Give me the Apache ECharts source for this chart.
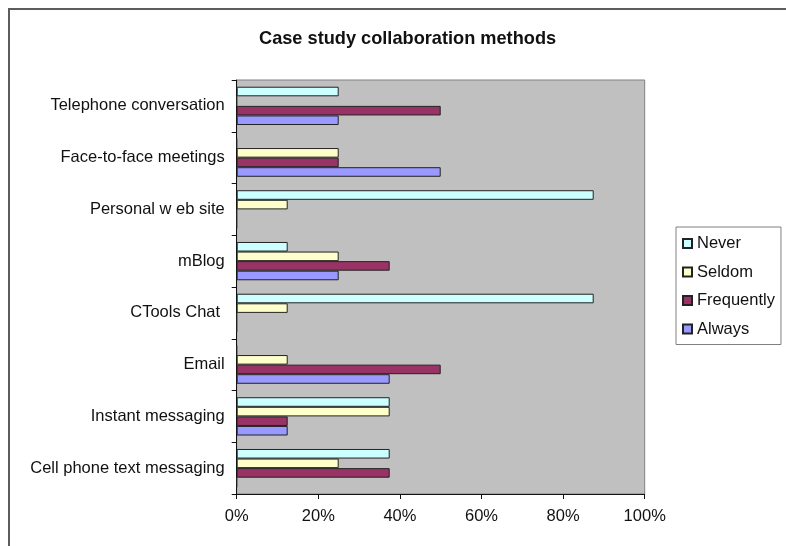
<!DOCTYPE html>
<html>
<head>
<meta charset="utf-8">
<script src="https://cdn.jsdelivr.net/npm/echarts@6/dist/echarts.min.js"></script>
<style>
  html, body { margin: 0; padding: 0; background: #fff; }
  #chart { width: 786px; height: 546px; }
</style>
</head>
<body>
<div id="chart"></div>
<script>
// Survey categories, listed top to bottom
const categories = [
  'Telephone conversation',
  'Face-to-face meetings',
  'Personal w eb site',
  'mBlog',
  'CTools Chat ',
  'Email',
  'Instant messaging',
  'Cell phone text messaging'
];

// Share of respondents per answer (fraction 0..1)
const never      = [0.25, 0,    0.875, 0.125, 0.875, 0,     0.375, 0.375];
const seldom     = [0,    0.25, 0.125, 0.25,  0.125, 0.125, 0.375, 0.25];
const frequently = [0.5,  0.25, 0,     0.375, 0,     0.5,   0.125, 0.375];
const always     = [0.25, 0.5,  0,     0.25,  0,     0.375, 0.125, 0];

const seriesNames = ['Never', 'Seldom', 'Frequently', 'Always'];
const xTicks = [0, 0.2, 0.4, 0.6, 0.8, 1.0];

const colors = ['#CCFFFF', '#FFFFCC', '#993366', '#9999FF'];
const font = 'Liberation Sans, Arial, sans-serif';

const chart = echarts.init(document.getElementById('chart'));

const seriesData = [never, seldom, frequently, always];

chart.setOption({
  animation: false,
  backgroundColor: '#ffffff',
  title: {
    text: 'Case study collaboration methods',
    left: 254,
    top: 25,
    textStyle: { fontFamily: font, fontSize: 18.2, fontWeight: 'bold', color: '#111' }
  },
  graphic: [{
    type: 'rect',
    shape: { x: 9, y: 9, width: 900, height: 700 },
    style: { fill: null, stroke: '#5c5c5c', lineWidth: 2 },
    silent: true,
    z: -1
  }],
  legend: {
    orient: 'vertical',
    left: 676,
    top: 227,
    padding: [8, 6, 7, 6],
    itemWidth: 9,
    itemHeight: 9,
    itemGap: 11.5,
    icon: 'rect',
    borderColor: '#808080',
    borderWidth: 1,
    data: seriesNames,
    textStyle: { fontFamily: font, fontSize: 16.5, color: '#111' }
  },
  grid: {
    left: 236.7,
    right: 141.3,
    top: 80,
    bottom: 52,
    show: true,
    backgroundColor: '#C0C0C0',
    borderColor: '#808080',
    borderWidth: 1
  },
  xAxis: {
    type: 'value',
    min: xTicks[0],
    max: xTicks[xTicks.length - 1],
    interval: xTicks[1] - xTicks[0],
    splitLine: { show: false },
    axisLine: { show: true, lineStyle: { color: '#111', width: 1 } },
    axisTick: { show: true, length: 5, lineStyle: { color: '#111' } },
    axisLabel: {
      margin: 14,
      fontFamily: font,
      fontSize: 16.5,
      color: '#111',
      formatter: v => Math.round(v * 100) + '%'
    }
  },
  yAxis: {
    type: 'category',
    inverse: true,
    data: categories,
    axisLine: { show: true, lineStyle: { color: '#111', width: 1 } },
    axisTick: { show: true, length: 5, lineStyle: { color: '#111' } },
    axisLabel: { margin: 12, fontFamily: font, fontSize: 16.5, color: '#111' }
  },
  series: seriesNames.map((name, i) => ({
    name: name,
    type: 'bar',
    data: seriesData[i],
    barGap: '0%',
    barCategoryGap: '26%',
    itemStyle: { color: colors[i], borderColor: '#222', borderWidth: 1 }
  }))
});
</script>
</body>
</html>
